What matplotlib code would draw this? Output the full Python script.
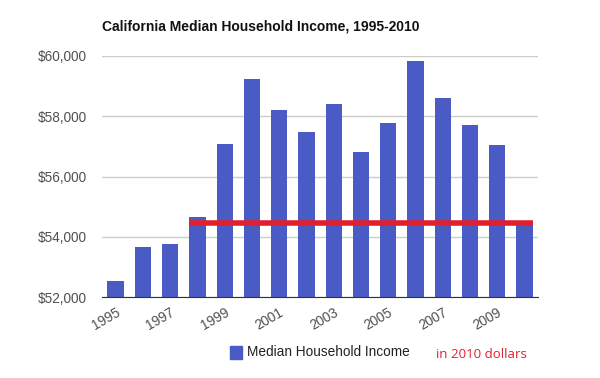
import matplotlib
matplotlib.use('Agg')
import matplotlib.pyplot as plt
from matplotlib.patches import Rectangle

plt.rcParams['font.family'] = ['Liberation Sans', 'DejaVu Sans']

### Data

years = list(range(1995, 2011))
income = [52530, 53670, 53760, 54670, 57080, 59250, 58200, 57470,
          58410, 56810, 57780, 59820, 58590, 57710, 57040, 54459]
ref_value = 54459
ref_start, ref_end = 1998, 2010
yticks = [52000, 54000, 56000, 58000, 60000]
xtick_years = [1995, 1997, 1999, 2001, 2003, 2005, 2007, 2009]

bar_color = '#4b5bc6'
red = '#e0202f'

### Figure

fig = plt.figure(figsize=(6, 3.78), dpi=100)
ax = fig.add_axes([0.170, 0.214, 0.727, 0.638])

x = list(range(len(years)))
ax.bar(x, income, width=0.6, color=bar_color, zorder=2)

i0 = years.index(ref_start)
i1 = years.index(ref_end)
ax.plot([i0 - 0.3, i1 + 0.3], [ref_value, ref_value], color=red, lw=4,
        solid_capstyle='butt', zorder=3)

ax.set_xlim(-0.5, len(years) - 0.5)
ax.set_ylim(52000, 60000)

ax.set_yticks(yticks)
ax.set_yticklabels(['${:,}'.format(v) for v in yticks])
ax.set_xticks([years.index(y) for y in xtick_years])
ax.set_xticklabels([str(y) for y in xtick_years], rotation=30, ha='right',
                   rotation_mode='anchor')

ax.grid(axis='y', color='#cccccc', lw=1, zorder=0)
ax.set_axisbelow(True)
for s in ['top', 'right', 'left']:
    ax.spines[s].set_visible(False)
ax.spines['bottom'].set_color('#333333')
ax.spines['bottom'].set_zorder(4)

ax.tick_params(axis='both', length=0, labelsize=9.8, colors='#505050')
ax.tick_params(axis='y', pad=11)
ax.tick_params(axis='x', pad=6)

fig.text(0.170, 0.930, 'California Median Household Income, 1995-2010',
         fontsize=10, fontweight='bold', color='#111111', va='center')

# Legend
fig.patches.append(Rectangle((230 / 600, 1 - 359 / 378), 12 / 600, 13 / 378,
                             transform=fig.transFigure, color=bar_color))
fig.text(247 / 600, 1 - 352 / 378, 'Median Household Income', fontsize=9.8,
         color='#222222', va='center')
fig.text(436 / 600, 1 - 354 / 378, 'in 2010 dollars', fontsize=9.5,
         color=red, va='center', family=['Open Sans', 'DejaVu Sans'])

fig.savefig('out.png', dpi=100)
plt.close(fig)
